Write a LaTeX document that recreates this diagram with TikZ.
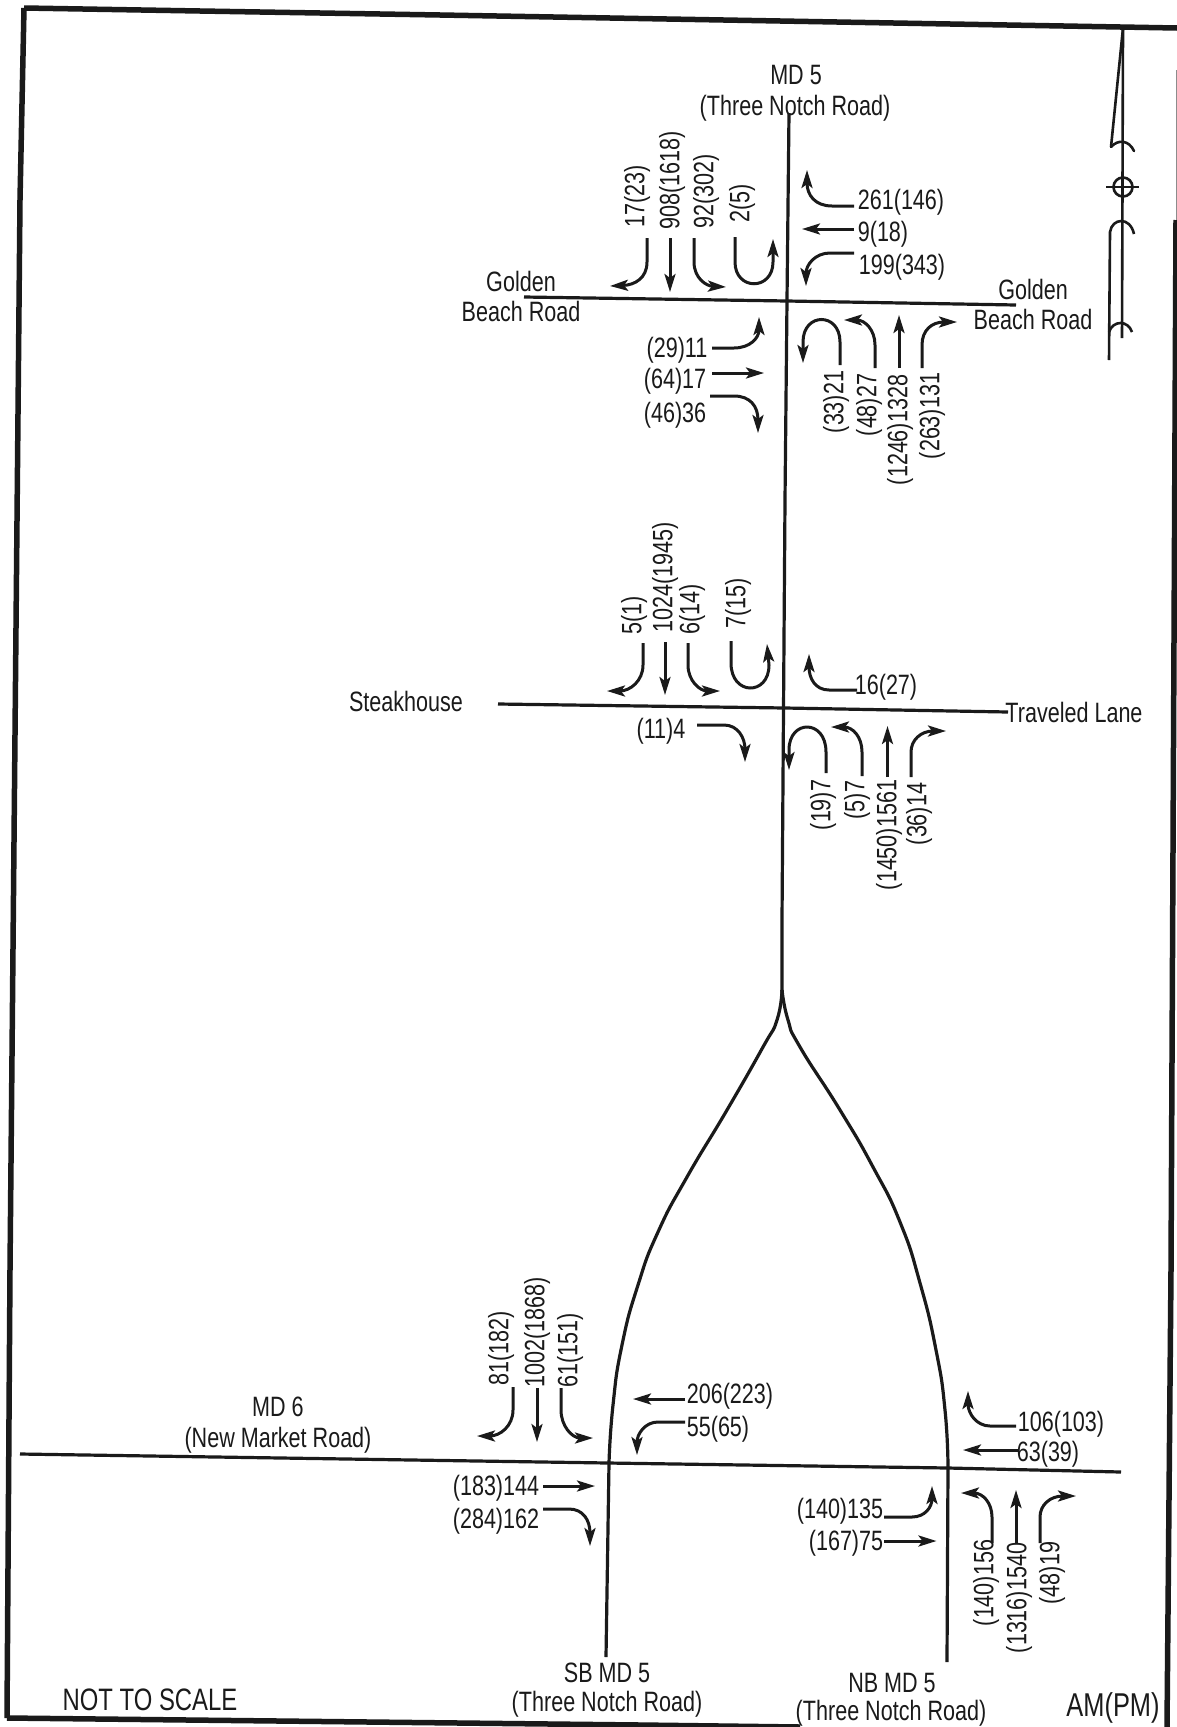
\documentclass[tikz,border=0pt]{standalone}
\usepackage{fontspec}
\setmainfont{Liberation Sans}[FakeStretch=0.77]
\usetikzlibrary{arrows.meta}
\definecolor{ink}{HTML}{1A1A1A}
\tikzset{
  lbl/.style={inner sep=0pt,text=ink,font=\fontsize{28}{30}\selectfont,yshift=-2pt},
  vlbl/.style={inner sep=0pt,text=ink,font=\fontsize{28}{30}\selectfont,rotate=90,xshift=2pt},
  biglbl/.style={inner sep=0pt,text=ink,font=\fontsize{31}{33}\selectfont},
  frameline/.style={draw=ink,line width=5.5pt},
  road/.style={draw=ink,line width=3.2pt},
  trav/.style={draw=ink,line width=3pt,-{Stealth[length=18pt,width=11pt,inset=4pt]}},
  sym/.style={draw=ink,line width=2.6pt}
}
\newcommand{\lab}[3]{\node[lbl] (#1) at (#2) {#3};}
\newcommand{\vlab}[3]{\node[vlbl] (#1) at (#2) {#3};}
\begin{document}
\begin{tikzpicture}[x=1pt,y=-1pt]
\useasboundingbox (0,0) rectangle (1177,1727);
\fill[white] (0,0) rectangle (1177,1727);
% frame
\draw[frameline] (24,8) -- (200,11) -- (440,15) -- (1177,28);
\draw[frameline] (24,8) -- (20,200) -- (10,1270) -- (7,1718);
\draw[frameline] (7,1718) -- (640,1725) -- (800,1727);
\draw[draw=ink,line width=5.5pt] (1176,220) -- (1171,1270) -- (1167,1727);
\draw[draw=black!45,line width=1pt] (1176,70) -- (1176,220);
% north arrow
\draw[sym] (1123,28) -- (1122,338);
\draw[sym] (1123,28) -- (1111,147);
\draw[sym,line cap=round] (1111,147) .. controls (1118,139) and (1129,140) .. (1134,151);
\draw[sym] (1123,187) circle (9.5);
\draw[sym] (1106,187) -- (1139,187);
\draw[sym] (1109,360) -- (1110,232) .. controls (1112,218) and (1130,216) .. (1134,234);
\draw[sym] (1109,332) .. controls (1113,320) and (1128,320) .. (1132,332);
% roads
\draw[road] (789,113) -- (787,300) -- (785,500) -- (782,920) -- (782,993);
\draw[road] plot[smooth,tension=0.9] coordinates {(782,990) (777,1020) (763,1047) (727,1110) (687,1177) (658,1232) (638,1285) (622,1345) (613,1405) (609,1463)} -- (606,1657);
\draw[road] plot[smooth,tension=0.9] coordinates {(782,990) (788,1020) (800,1047) (840,1110) (873,1167) (900,1222) (920,1283) (936,1350) (945,1410) (948,1467)} -- (947,1662);
\draw[road] (524,297) -- (787,301) -- (1016,305);
\draw[road] (498,704) -- (785,708) -- (1008,712);
\draw[road] (20,1454) -- (608,1463) -- (948,1468) -- (1121,1472);
% Golden Beach labels
\lab{mdfive}{796,73}{MD 5}
\lab{notchtop}{795,106}{(Three Notch Road)}
\lab{goldenl}{521,279}{Golden}
\lab{beachl}{521,309}{Beach Road}
\lab{goldenr}{1033,287}{Golden}
\lab{beachr}{1033,317}{Beach Road}
\lab{a261}{901,200}{261(146)}
\lab{a9}{883,232}{9(18)}
\lab{a199}{902,265}{199(343)}
\vlab{a17}{637,198}{17(23)}
\vlab{a908}{672,182}{908(1618)}
\vlab{a92}{706,193}{92(302)}
\vlab{a2}{742,205}{2(5)}
\lab{a11}{677,348}{(29)11}
\lab{a17b}{675,379}{(64)17}
\lab{a36}{675,413}{(46)36}
\vlab{a21}{836,404}{(33)21}
\vlab{a27}{869,407}{(48)27}
\vlab{a1328}{900,432}{(1246)1328}
\vlab{a131}{932,418}{(263)131}
% Golden Beach arrows
\draw[trav] (647,238) -- (647,262) .. controls (647,278) and (635,285) .. (610,286);
\draw[trav] (670,238) -- (670,292);
\draw[trav] (694,238) -- (694,262) .. controls (694,278) and (706,286) .. (726,287);
\draw[trav] (735,237) -- (735,262) .. controls (735,291) and (773,291) .. (773,262) -- (773,239);
\draw[trav] (854,206) -- (832,206) .. controls (815,206) and (807,195) .. (807,170);
\draw[trav] (854,229) -- (802,229);
\draw[trav] (854,253) -- (830,253) .. controls (815,253) and (806,265) .. (806,286);
\draw[trav] (840,365) -- (840,342) .. controls (840,312) and (803,312) .. (803,342) -- (803,363);
\draw[trav] (875,368) -- (875,345) .. controls (875,330) and (865,320) .. (844,320);
\draw[trav] (899,368) -- (899,315);
\draw[trav] (922,368) -- (922,345) .. controls (922,330) and (932,322) .. (957,322);
\draw[trav] (712,348) -- (734,348) .. controls (750,348) and (759,338) .. (759,317);
\draw[trav] (712,373) -- (764,373);
\draw[trav] (710,396) -- (734,396) .. controls (750,396) and (758,406) .. (758,433);
% Steakhouse labels
\lab{steak}{406,699}{Steakhouse}
\lab{lane}{1074,710}{Traveled Lane}
\lab{b16}{886,685}{16(27)}
\lab{b4}{661,729}{(11)4}
\vlab{b5}{634,617}{5(1)}
\vlab{b1024}{665,579}{1024(1945)}
\vlab{b6}{692,611}{6(14)}
\vlab{b7}{738,605}{7(15)}
\vlab{b19}{823,807}{(19)7}
\vlab{b57}{857,802}{(5)7}
\vlab{b1561}{889,837}{(1450)1561}
\vlab{b14}{919,816}{(36)14}
% Steakhouse arrows
\draw[trav] (643,643) -- (643,665) .. controls (643,681) and (630,691) .. (607,691);
\draw[trav] (665,642) -- (665,695);
\draw[trav] (688,643) -- (688,665) .. controls (688,681) and (700,691) .. (720,691);
\draw[trav] (731,641) -- (731,663) .. controls (731,696) and (769,696) .. (769,665) -- (767,644);
\draw[trav] (857,690) -- (829,690) .. controls (815,690) and (809,678) .. (809,654);
\draw[trav] (697,725) -- (724,725) .. controls (738,725) and (745,738) .. (745,762);
\draw[trav] (826,773) -- (826,752) .. controls (826,719) and (789,719) .. (789,750) -- (789,770);
\draw[trav] (862,776) -- (862,752) .. controls (862,737) and (853,727) .. (831,727);
\draw[trav] (887.5,777) -- (887.5,726);
\draw[trav] (911,777) -- (911,752) .. controls (911,740) and (921,731) .. (946,731);
% MD 6 labels
\lab{mdsix}{278,1405}{MD 6}
\lab{market}{278,1438}{(New Market Road)}
\vlab{c81}{501,1350}{81(182)}
\vlab{c1002}{537,1334}{1002(1868)}
\vlab{c61}{570,1352}{61(151)}
\lab{c144}{496,1486}{(183)144}
\lab{c162}{496,1519}{(284)162}
\lab{sb}{607,1671}{SB MD 5}
\lab{sbn}{607,1702}{(Three Notch Road)}
\node[biglbl] (nts) at (150,1700) {NOT TO SCALE};
\lab{c206}{730,1394}{206(223)}
\lab{c55}{718,1427}{55(65)}
\lab{c106}{1061,1422}{106(103)}
\lab{c63}{1048,1452}{63(39)}
\lab{c135}{840,1509}{(140)135}
\lab{c75}{846,1541}{(167)75}
\vlab{c156}{986,1585}{(140)156}
\vlab{c1540}{1019,1600}{(1316)1540}
\vlab{c19}{1052,1575}{(48)19}
\lab{nb}{892,1681}{NB MD 5}
\lab{nbn}{891,1711}{(Three Notch Road)}
\node[biglbl,font=\fontsize{33}{35}\selectfont] (ampm) at (1113,1708) {AM(PM)};
% MD 6 arrows
\draw[trav] (513,1387) -- (513,1410) .. controls (513,1426) and (500,1436) .. (477,1436);
\draw[trav] (537,1388) -- (537,1442);
\draw[trav] (561,1388) -- (561,1410) .. controls (561,1426) and (572,1438) .. (593,1438);
\draw[trav] (543,1486) -- (595,1486);
\draw[trav] (543,1509) -- (569,1509) .. controls (583,1509) and (590,1520) .. (590,1546);
\draw[trav] (685,1399) -- (633,1399);
\draw[trav] (685,1422) -- (658,1422) .. controls (645,1422) and (637,1434) .. (637,1455);
\draw[trav] (1016,1426) -- (990,1426) .. controls (977,1426) and (968,1414) .. (968,1391);
\draw[trav] (1018,1450) -- (963,1450);
\draw[trav] (884,1517) -- (912,1517) .. controls (925,1517) and (932,1507) .. (932,1486);
\draw[trav] (884,1541) -- (936.5,1541);
\draw[trav] (992,1543) -- (992,1517) .. controls (992,1503) and (983,1493) .. (961,1493);
\draw[trav] (1016,1543) -- (1016,1490);
\draw[trav] (1040,1543) -- (1040,1517) .. controls (1040,1505) and (1050,1496) .. (1076,1496);
\end{tikzpicture}
\end{document}
